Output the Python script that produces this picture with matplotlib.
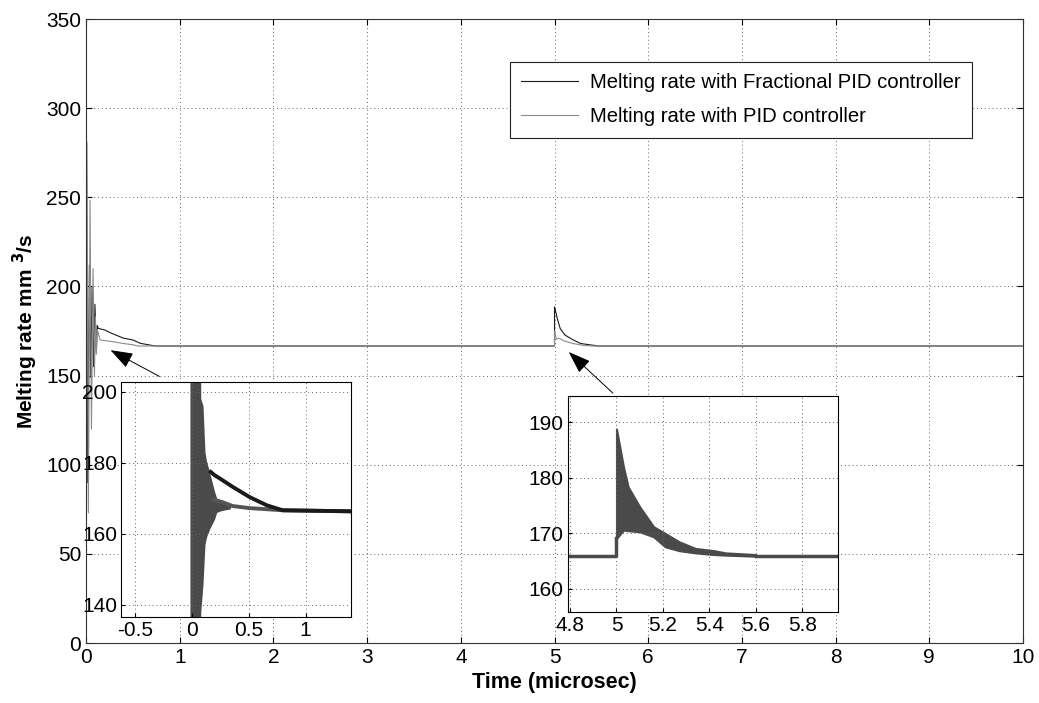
import matplotlib
matplotlib.use("Agg")
import matplotlib.pyplot as plt

plt.rcParams["font.family"] = ["Liberation Sans", "DejaVu Sans"]

# Curva principal - controlador PID fracionario
t_frac = [0, 0.018, 0.036, 0.05, 0.065, 0.08, 0.095, 0.11, 0.12, 0.13,
          0.2, 0.27, 0.4, 0.5, 0.58, 0.74, 5.0, 5.0, 5.03, 5.06, 5.11,
          5.2, 5.28, 5.47, 10]
y_frac = [350, 90, 212, 149, 200, 155, 190, 163, 178, 176.5,
          175.6, 173.8, 171, 170, 168.1, 166.6, 166.6, 188.6, 182, 176.5, 172.8,
          170, 168, 166.6, 166.6]

# Curva principal - controlador PID
t_pid = [0, 0.01, 0.025, 0.043, 0.058, 0.075, 0.09, 0.1, 0.11, 0.12,
         0.15, 0.29, 0.4, 0.5, 0.55, 5.0, 5.0, 5.02, 5.05, 5.1, 5.2,
         5.3, 5.4, 10]
y_pid = [166, 281, 73, 248.5, 120, 210, 150, 183, 162, 176,
         170, 169, 168, 167.3, 166.6, 166.6, 175, 170.5, 171, 169.5, 168,
         167, 166.6, 166.6]

# Zoom 1 (inicio)
ins1_band_t = [-0.015, 0.079, 0.08, 0.10, 0.117, 0.13, 0.16, 0.2, 0.22, 0.26, 0.34]
ins1_band_hi = [205, 205, 198, 196, 183, 180.5, 177, 172, 170, 169, 168]
ins1_band_lo = [130, 130, 138, 146, 157, 159, 161.5, 164, 166, 166.5, 167]
ins1_frac_t = [0.167, 0.2, 0.25, 0.36, 0.51, 0.66, 0.80, 1.42]
ins1_frac_y = [177.4, 176.5, 175.5, 173.2, 170.3, 168, 166.6, 166.3]
ins1_pid_t = [0.2, 0.26, 0.36, 0.51, 0.66, 0.80, 1.42]
ins1_pid_y = [169.5, 169, 167.8, 167.2, 166.9, 166.6, 166.3]

# Zoom 2 (perturbacao em t = 5)
ins2_pre_t = [4.79, 5.0]
ins2_pre_y = [165.9, 165.9]
ins2_band_t = [5.0, 5.03, 5.05, 5.10, 5.16, 5.21, 5.27, 5.34, 5.42, 5.47, 5.60]
ins2_band_hi = [188.8, 182, 178.4, 174.8, 171.2, 170, 168.5, 167.3, 166.9, 166.5, 166.2]
ins2_band_lo = [169.1, 170.6, 170.5, 170.3, 169.4, 167.6, 166.9, 166.5, 166.2, 166.1, 165.9]
ins2_post_t = [5.6, 5.96]
ins2_post_y = [165.9, 165.9]

c_frac = "#1a1a1a"
c_pid = "#8a8a8a"
c_band = "#4a4a4a"
grid_kw = dict(linestyle=(0, (1, 3)), color="#666666", lw=0.7)
seta = dict(arrowstyle="-|>,head_length=1.4,head_width=0.5", color="black", lw=0.7)

fig = plt.figure(figsize=(10.39, 7.03), dpi=100)
ax = fig.add_axes([0.0828, 0.0853, 0.9018, 0.8876])

ax.plot(t_frac, y_frac, color=c_frac, lw=0.8, label="Melting rate with Fractional PID controller")
ax.plot(t_pid, y_pid, color=c_pid, lw=0.8, label="Melting rate with PID controller")

ax.set_xlim(0, 10)
ax.set_ylim(0, 350)
ax.set_xticks(range(0, 11))
ax.set_yticks(range(0, 351, 50))
ax.grid(True, **grid_kw)
ax.tick_params(direction="in", length=4, labelsize=15, top=True, right=True)
ax.set_xlabel("Time (microsec)", fontsize=15.5, fontweight="bold")
ax.set_ylabel("Melting rate mm $\\mathbf{^3}$/s", fontsize=15, fontweight="bold")
for s in ax.spines.values():
    s.set_color("#333333")

leg = ax.legend(loc="upper right", bbox_to_anchor=(0.9456, 0.931), borderaxespad=0,
                fontsize=14.6, fancybox=False, framealpha=1, edgecolor="#222222",
                handlelength=2.8, handletextpad=0.6, borderpad=0.55, labelspacing=0.75)
leg.get_frame().set_linewidth(0.8)

# Setas
ax.annotate("", xy=(0.235, 165), xytext=(0.81, 148.8), arrowprops=seta)
ax.annotate("", xy=(5.13, 164.3), xytext=(5.645, 139.1), arrowprops=seta)

# Inset 1
ax1 = fig.add_axes([0.1165, 0.1219, 0.2214, 0.3343])
ax1.fill_between(ins1_band_t, ins1_band_lo, ins1_band_hi, color=c_band, lw=0)
ax1.plot(ins1_pid_t, ins1_pid_y, color="#555555", lw=2.8)
ax1.plot(ins1_frac_t, ins1_frac_y, color=c_frac, lw=2.8)
ax1.set_xlim(-0.62, 1.40)
ax1.set_ylim(136.5, 202.6)
ax1.set_xticks([-0.5, 0, 0.5, 1])
ax1.set_xticklabels(["-0.5", "0", "0.5", "1"])
ax1.set_yticks([140, 160, 180, 200])
ax1.grid(True, **grid_kw)
ax1.tick_params(direction="in", length=3, labelsize=15, pad=3)

# Inset 2
ax2 = fig.add_axes([0.5464, 0.129, 0.2604, 0.3081])
ax2.plot(ins2_pre_t + [ins2_band_t[0]], ins2_pre_y + [ins2_band_lo[0]], color=c_band, lw=2.5)
ax2.fill_between(ins2_band_t, ins2_band_lo, ins2_band_hi, color=c_band, lw=1.5, edgecolor=c_band)
ax2.plot(ins2_post_t, ins2_post_y, color=c_band, lw=2.5)
ax2.set_xlim(4.79, 5.955)
ax2.set_ylim(155.8, 194.8)
ax2.set_xticks([4.8, 5.0, 5.2, 5.4, 5.6, 5.8])
ax2.set_xticklabels(["4.8", "5", "5.2", "5.4", "5.6", "5.8"])
ax2.set_yticks([160, 170, 180, 190])
ax2.grid(True, **grid_kw)
ax2.tick_params(direction="in", length=3, labelsize=15, pad=3)

fig.savefig("out.png", dpi=100)
